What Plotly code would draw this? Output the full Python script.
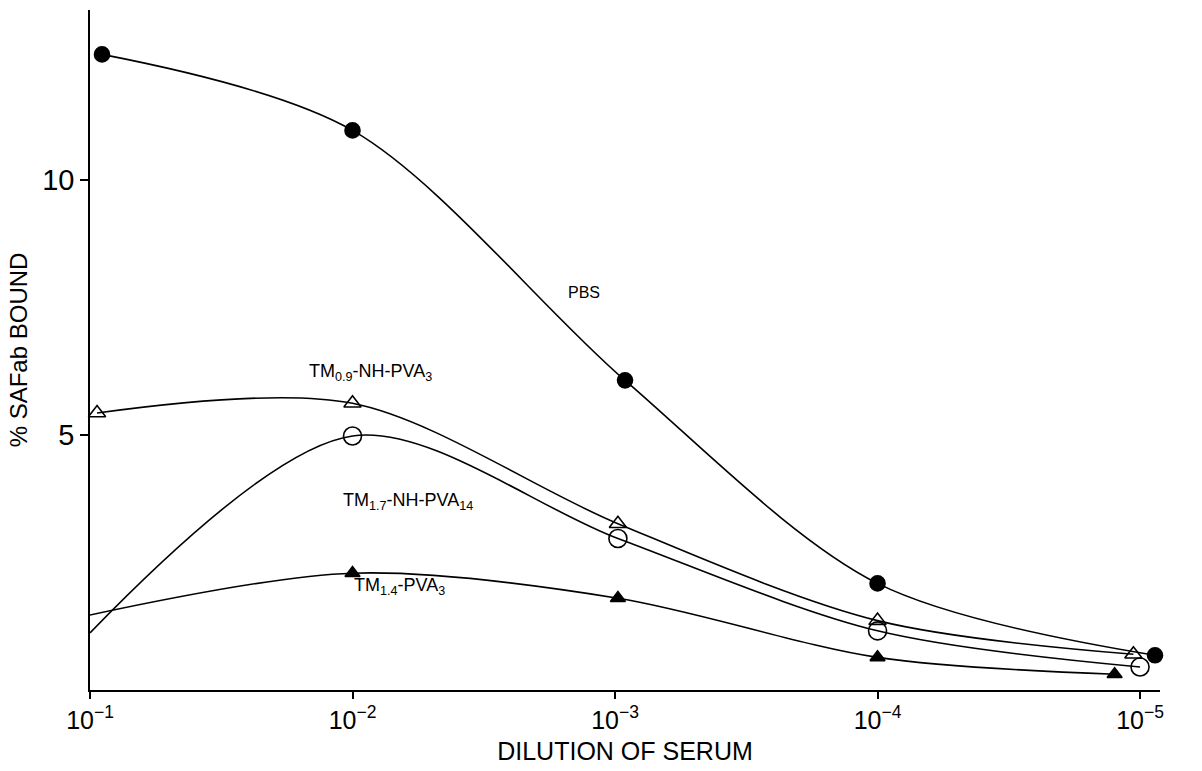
import plotly.graph_objects as go

# Dilution of serum (x) and % SAFab bound (y)
pbs_x = [0.090, 1e-2, 0.000916, 1e-4, 0.00000877]
pbs_y = [12.46, 10.97, 6.07, 2.09, 0.68]
tm09_x = [0.094, 1e-2, 0.000975, 1e-4, 0.0000106]
tm09_y = [5.43, 5.62, 3.26, 1.36, 0.70]
tm17_x = [1e-1, 1e-2, 0.000975, 1e-4, 0.0000100]
tm17_y = [1.12, 4.98, 2.97, 1.16, 0.45]
tm14_x = [1e-1, 1e-2, 0.000975, 1e-4, 0.0000125]
tm14_y = [1.47, 2.29, 1.80, 0.64, 0.31]

tick_vals = [1e-1, 1e-2, 1e-3, 1e-4, 1e-5]
tick_text = ["10<sup>−1</sup>", "10<sup>−2</sup>", "10<sup>−3</sup>", "10<sup>−4</sup>", "10<sup>−5</sup>"]

FONT = "Liberation Sans, Arial, sans-serif"

fig = go.Figure()

def add(x, y, symbol, size):
    fig.add_trace(go.Scatter(
        x=x, y=y, mode="lines+markers",
        line=dict(color="black", width=1.6, shape="spline", smoothing=0.9),
        marker=dict(symbol=symbol, size=size, color="black",
                    line=dict(color="black", width=1.6)),
        showlegend=False, cliponaxis=False))

add(pbs_x, pbs_y, "circle", 15)
add(tm09_x, tm09_y, "triangle-up-open", 15)
add(tm17_x, tm17_y, "circle-open", 18)
add(tm14_x, tm14_y, "triangle-up", 13)

labels = [
    ("PBS", -2.88, 7.80, 16),
    ("TM<sub>0.9</sub>-NH-PVA<sub>3</sub>", -2.07, 6.22, 18),
    ("TM<sub>1.7</sub>-NH-PVA<sub>14</sub>", -2.21, 3.70, 18),
    ("TM<sub>1.4</sub>-PVA<sub>3</sub>", -2.18, 2.02, 18),
]
for text, lx, ly, fs in labels:
    fig.add_annotation(x=lx, y=ly, text=text, showarrow=False,
                       font=dict(family=FONT, size=fs, color="black"),
                       xref="x", yref="y")

fig.update_layout(
    width=1202, height=771,
    margin=dict(l=90, r=42, t=10, b=73),
    paper_bgcolor="white", plot_bgcolor="white",
    font=dict(family=FONT, color="black"),
    xaxis=dict(
        type="log", range=[-1, -5.076],
        tickvals=tick_vals, ticktext=tick_text,
        ticks="outside", ticklen=7, tickcolor="black", tickwidth=1.5,
        showline=True, linecolor="black", linewidth=1.6,
        showgrid=False, zeroline=False,
        tickfont=dict(size=25, family=FONT),
        title=dict(text="DILUTION OF SERUM", font=dict(size=25, family=FONT), standoff=10),
    ),
    yaxis=dict(
        range=[0, 13.33],
        tickvals=[5, 10], ticktext=["5", "10"],
        ticks="outside", ticklen=8, tickcolor="black", tickwidth=1.5,
        showline=True, linecolor="black", linewidth=1.6,
        showgrid=False, zeroline=False,
        tickfont=dict(size=29, family=FONT),
        title=dict(text="% SAFab BOUND", font=dict(size=24, family=FONT), standoff=8),
    ),
)

fig.write_html("out.html")
